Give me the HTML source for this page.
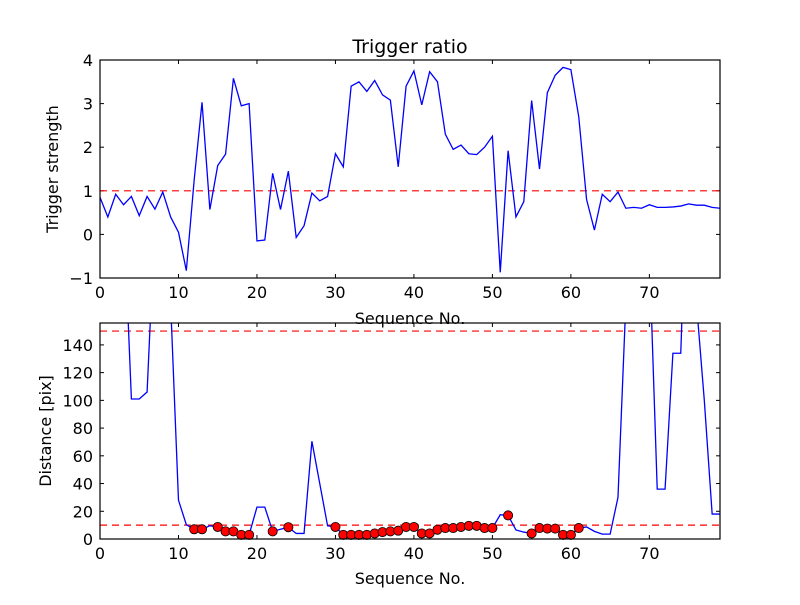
<!DOCTYPE html>
<html><head><meta charset="utf-8"><style>
body{margin:0;background:#fff}
svg{font-family:"DejaVu Sans","Liberation Sans",sans-serif}
</style></head><body>
<svg id="c" width="800" height="600" xmlns="http://www.w3.org/2000/svg">
<rect width="800" height="600" fill="#fff"/>
<defs>
<clipPath id="clipTop"><rect x="100" y="60" width="620" height="218"/></clipPath>
<clipPath id="clipBot"><rect x="100" y="323" width="620" height="216"/></clipPath>
</defs>
<g id="top"></g>
<g id="bot"></g>
</svg>
<script>
const strength=[0.85,0.4,0.92,0.68,0.87,0.43,0.87,0.58,0.97,0.4,0.05,-0.83,1.25,3.03,0.57,1.58,1.84,3.58,2.95,3.0,-0.15,-0.13,1.4,0.57,1.45,-0.07,0.2,0.95,0.77,0.87,1.85,1.55,3.4,3.5,3.28,3.53,3.2,3.08,1.55,3.4,3.75,2.97,3.73,3.5,2.3,1.95,2.05,1.85,1.83,2.0,2.25,-0.87,1.92,0.4,0.75,3.07,1.5,3.25,3.65,3.83,3.78,2.7,0.8,0.1,0.92,0.75,0.97,0.6,0.62,0.6,0.68,0.62,0.62,0.63,0.65,0.7,0.67,0.67,0.62,0.6];
const distance=[300,300,300,238,101,101,106,231,300,170,28,10.3,7,7,9.6,8.7,5.5,5.5,3,3,23,23,5.5,7,8.5,4,4,70.5,40,9.5,8.7,3,3,3,3,4,5,5.5,6,8.7,8.7,4,4,6.7,7.9,7.9,8.7,9.5,9.5,7.9,7.9,17.5,17,6.5,5,4,7.9,7.5,7.5,3,3,7.9,8.7,5.5,3.5,3.5,30,170,300,300,207,36,36,134,134,300,170,100,18,18];
const markerIdx=[12,13,15,16,17,18,19,22,24,30,31,32,33,34,35,36,37,38,39,40,41,42,43,44,45,46,47,48,49,50,52,55,56,57,58,59,60,61];
const topTicksY=[-1,0,1,2,3,4];
const botTicksY=[0,20,40,60,80,100,120,140];
const ticksX=[0,10,20,30,40,50,60,70];
const topThreshold=1, botThresholds=[10,150];

const NS="http://www.w3.org/2000/svg";
const L=100,R=720;
const xs=v=>L+(v/79)*(R-L);
const yTop=v=>60+(4-v)*(218/5);
const yBot=v=>539-v*(216/155.8);
function mk(tag,attrs,parent){const e=document.createElementNS(NS,tag);for(const k in attrs)e.setAttribute(k,attrs[k]);parent.appendChild(e);return e;}
function txt(s,x,y,anchor,size,parent,rot){const t=mk('text',{x:x,y:y,'text-anchor':anchor,'font-size':size,fill:'#000'},parent);if(rot)t.setAttribute('transform',`rotate(-90 ${x} ${y})`);t.textContent=s;return t;}

function panel(g,y0,y1,yfn,yticks,ylab,ylabX,xlabY){
  ticksX.forEach(t=>{const x=xs(t);
    const a=mk('line',{x1:x,x2:x,y1:y1,y2:y1-4,stroke:'#000'},g);
    mk('line',{x1:x,x2:x,y1:y0,y2:y0+4,stroke:'#000'},g);
    const l=txt(String(t),x,y1+20,'middle',16,g);});
  yticks.forEach(t=>{const y=yfn(t);
    const a=mk('line',{x1:L,x2:L+4,y1:y,y2:y,stroke:'#000'},g);
    mk('line',{x1:R,x2:R-4,y1:y,y2:y,stroke:'#000'},g);
    const l=txt(t<0?'\u22121':String(t),L-7,y+6,'end',16,g);});
  const yl=txt(ylab,ylabX,(y0+y1)/2,'middle',16,g,true);
  const xl=txt('Sequence No.',410,xlabY,'middle',16,g);
}
const gt=document.getElementById('top'), gb=document.getElementById('bot');
panel(gt,60,278,yTop,topTicksY,'Trigger strength',58,324);
panel(gb,323,539,yBot,botTicksY,'Distance [pix]',51,584);
const title=txt('Trigger ratio',410,53,'middle',19,gt);



const ct=mk('g',{'clip-path':'url(#clipTop)'},gt);
const th=mk('line',{x1:L,x2:R,y1:yTop(topThreshold),y2:yTop(topThreshold),stroke:'#f00','stroke-dasharray':'7,5','stroke-width':1.2},ct);


const p1=mk('polyline',{points:strength.map((v,i)=>xs(i)+','+yTop(v)).join(' '),fill:'none',stroke:'#00f','stroke-width':1.3},ct);


const f1=mk('rect',{x:L,y:60,width:R-L,height:218,fill:'none',stroke:'#000','stroke-width':1.2},gt);



const cb=mk('g',{'clip-path':'url(#clipBot)'},gb);
botThresholds.forEach(v=>{
  const l=mk('line',{x1:L,x2:R,y1:yBot(v),y2:yBot(v),stroke:'#f00','stroke-dasharray':'7,5','stroke-width':1.2},cb);
  
  
});
const p2=mk('polyline',{points:distance.map((v,i)=>xs(i)+','+yBot(v)).join(' '),fill:'none',stroke:'#00f','stroke-width':1.3},cb);


markerIdx.forEach(i=>{
  const c=mk('circle',{cx:xs(i),cy:yBot(distance[i]),r:4.6,fill:'#f00',stroke:'#000','stroke-width':0.8},gb);
  
  
});
const f2=mk('rect',{x:L,y:323,width:R-L,height:216,fill:'none',stroke:'#000','stroke-width':1.2},gb);


</script>
</body></html>
